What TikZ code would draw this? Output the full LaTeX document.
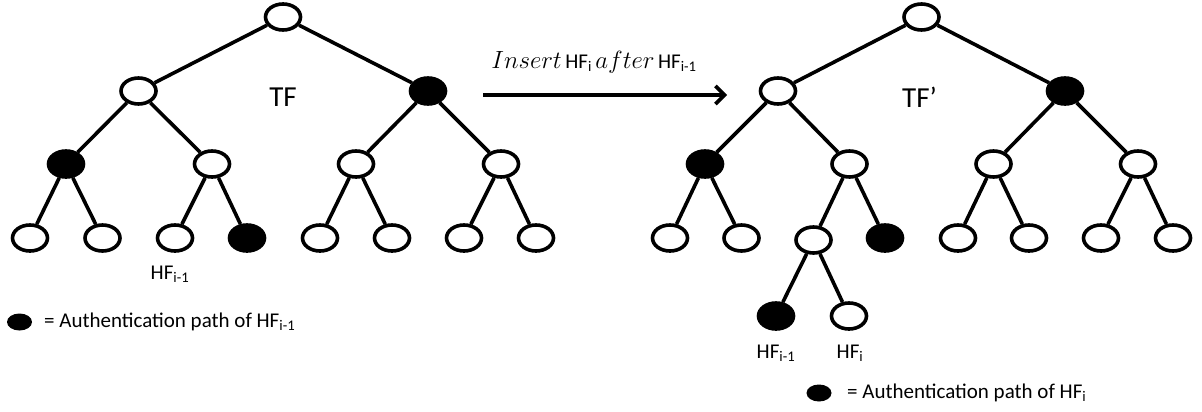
\documentclass[tikz,border=0pt]{standalone}
\usepackage{fontspec}
\setmainfont{Carlito}
\usetikzlibrary{shapes.geometric,arrows.meta}
\newcommand{\mitword}[1]{{\fontsize{23}{28}\selectfont$#1$}}
\begin{document}
\begin{tikzpicture}[x=1pt,y=-1pt,
  hnode/.style={ellipse,draw=black,line width=3.6pt,fill=white,minimum width=35pt,minimum height=26pt,inner sep=0pt},
  hfill/.style={hnode,fill=black},
  edge/.style={line width=3.6pt},
  lbl/.style={inner sep=0pt,font=\fontsize{21}{25}\selectfont},
  big/.style={inner sep=0pt,font=\fontsize{29}{34}\selectfont},
  legdot/.style={ellipse,fill=black,minimum width=25pt,minimum height=17pt,inner sep=0pt}]
\useasboundingbox (0,0) rectangle (1202,412);
% ---------- left tree ----------
\node[hnode] (a0) at (283,17) {};
\node[hnode] (a1) at (138.5,91) {};
\node[hfill] (a2) at (428,91) {};
\node[hfill] (a3) at (66,164) {};
\node[hnode] (a4) at (212,164) {};
\node[hnode] (a5) at (356,164) {};
\node[hnode] (a6) at (501,164) {};
\node[hnode] (a7) at (30,238) {};
\node[hnode] (a8) at (102.5,238) {};
\node[hnode] (a9) at (175,238) {};
\node[hfill] (a10) at (247,238) {};
\node[hnode] (a11) at (320,238) {};
\node[hnode] (a12) at (392,238) {};
\node[hnode] (a13) at (464,238) {};
\node[hnode] (a14) at (536,238) {};
\draw[edge] (a0) -- (a1); \draw[edge] (a0) -- (a2);
\draw[edge] (a1) -- (a3); \draw[edge] (a1) -- (a4);
\draw[edge] (a2) -- (a5); \draw[edge] (a2) -- (a6);
\draw[edge] (a3) -- (a7); \draw[edge] (a3) -- (a8);
\draw[edge] (a4) -- (a9); \draw[edge] (a4) -- (a10);
\draw[edge] (a5) -- (a11); \draw[edge] (a5) -- (a12);
\draw[edge] (a6) -- (a13); \draw[edge] (a6) -- (a14);
\node[big] (tf) at (283,97) {TF};
\node[lbl] (hfl) at (170,274) {HF\textsubscript{i-1}};
\node[legdot] (ld1) at (19.5,322) {};
\node[lbl,anchor=west] (lt1) at (44,322) {= Authentication path of HF\textsubscript{i-1}};
% ---------- arrow ----------
\coordinate (s) at (483,95);
\coordinate (e) at (727,95);
\draw[line width=3.6pt,-{Straight Barb[length=9pt,width=18pt,line width=3.6pt]}] (s) -- (e);
\node[lbl] (ins) at (594,62) {\mitword{Insert}\,HF\textsubscript{i}\,\mitword{after}\,HF\textsubscript{i-1}};
% ---------- right tree ----------
\node[hnode] (b0) at (921.5,17) {};
\node[hnode] (b1) at (778,91) {};
\node[hfill] (b2) at (1065,91) {};
\node[hfill] (b3) at (705,164) {};
\node[hnode] (b4) at (849.5,164) {};
\node[hnode] (b5) at (993.5,164) {};
\node[hnode] (b6) at (1138,164) {};
\node[hnode] (b7) at (670,238) {};
\node[hnode] (b8) at (741.5,238) {};
\node[hnode] (b9) at (813.5,240) {};
\node[hfill] (b10) at (885,238) {};
\node[hnode] (b11) at (958,238) {};
\node[hnode] (b12) at (1029,238) {};
\node[hnode] (b13) at (1101,238) {};
\node[hnode] (b14) at (1173,238) {};
\node[hfill] (b15) at (776,316) {};
\node[hnode] (b16) at (849,316) {};
\draw[edge] (b0) -- (b1); \draw[edge] (b0) -- (b2);
\draw[edge] (b1) -- (b3); \draw[edge] (b1) -- (b4);
\draw[edge] (b2) -- (b5); \draw[edge] (b2) -- (b6);
\draw[edge] (b3) -- (b7); \draw[edge] (b3) -- (b8);
\draw[edge] (b4) -- (b9); \draw[edge] (b4) -- (b10);
\draw[edge] (b5) -- (b11); \draw[edge] (b5) -- (b12);
\draw[edge] (b6) -- (b13); \draw[edge] (b6) -- (b14);
\draw[edge] (b9) -- (b15); \draw[edge] (b9) -- (b16);
\node[big] (tfp) at (919.5,97) {TF’};
\node[lbl] (hfr1) at (776,353) {HF\textsubscript{i-1}};
\node[lbl] (hfr2) at (850,353) {HF\textsubscript{i}};
\node[legdot] (ld2) at (819,393) {};
\node[lbl,anchor=west] (lt2) at (847,393) {= Authentication path of HF\textsubscript{i}};
\end{tikzpicture}
\end{document}
